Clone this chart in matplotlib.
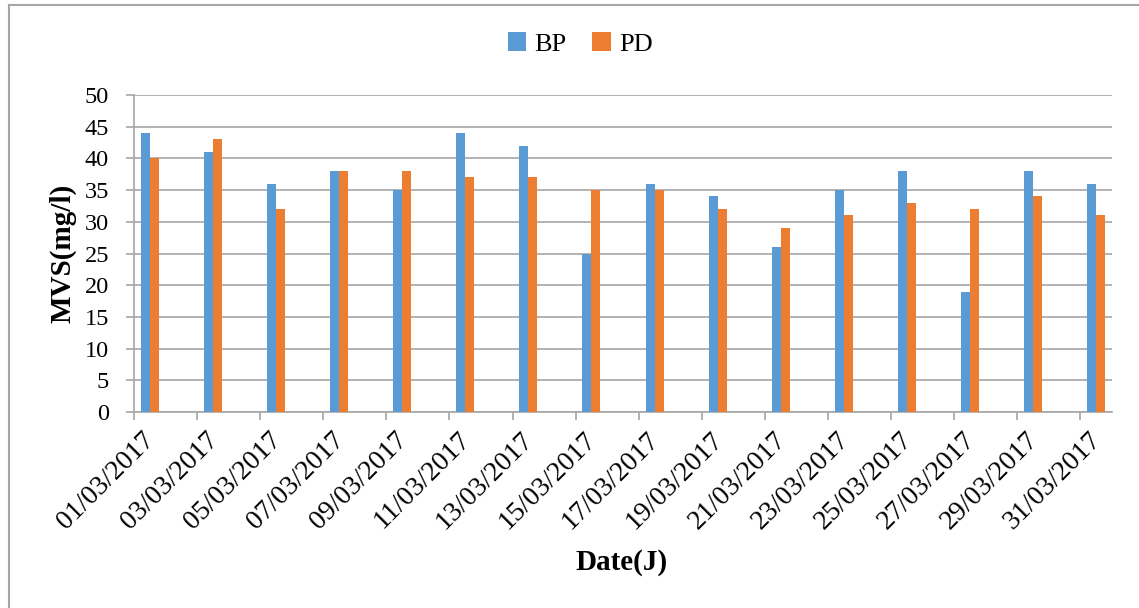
import matplotlib
matplotlib.use("Agg")
import matplotlib.pyplot as plt
import matplotlib.transforms as mtransforms
from matplotlib.lines import Line2D
import numpy as np

# Sampling days in March 2017 (every other day)
days = [1, 3, 5, 7, 9, 11, 13, 15, 17, 19, 21, 23, 25, 27, 29, 31]
tick_labels = [f"{d:02d}/03/2017" for d in days]
bp = [44, 41, 36, 38, 35, 44, 42, 25, 36, 34, 26, 35, 38, 19, 38, 36]
pd_ = [40, 43, 32, 38, 38, 37, 37, 35, 35, 32, 29, 31, 33, 32, 34, 31]

plt.rcParams['font.family'] = ['Liberation Serif', 'DejaVu Serif']

W, H = 1139, 608
fig = plt.figure(figsize=(W / 100, H / 100), dpi=100)
ax = fig.add_axes([134 / W, 1 - 412 / H, (1112 - 134) / W, (412 - 95) / H])

grid_c = '#A6A6A6'
blue = '#5B9BD5'
orange = '#ED7D31'

# Date axis: each day occupies one slot, bars centred in their day slot
x = np.array(days, dtype=float) - 0.5
bw = 0.285
ax.bar(x - bw / 2, bp, width=bw, color=blue, label='BP', zorder=3)
ax.bar(x + bw / 2, pd_, width=bw, color=orange, label='PD', zorder=3)

ax.set_xlim(0, 31)
ax.set_ylim(0, 50)
ax.set_yticks(range(0, 51, 5))
ax.yaxis.grid(True, color=grid_c, linewidth=1.2, zorder=0)
ax.set_axisbelow(True)

for s in ['top', 'right']:
    ax.spines[s].set_visible(False)
for s in ['left', 'bottom']:
    ax.spines[s].set_color(grid_c)
    ax.spines[s].set_linewidth(1.2)

ax.tick_params(axis='y', colors=grid_c, length=6, width=1.2, pad=12,
               labelsize=17.5, labelcolor='black')
ax.tick_params(axis='x', colors=grid_c, length=6, width=1.2, pad=2,
               labelsize=20, labelcolor='black')

ax.set_xticks(np.array(days, dtype=float) - 1)
ax.set_xticklabels(tick_labels, rotation=45, ha='right', va='center',
                   rotation_mode='anchor')
offset = mtransforms.ScaledTranslation(17 / 100, -13 / 100, fig.dpi_scale_trans)
for lab in ax.get_xticklabels():
    lab.set_transform(lab.get_transform() + offset)

fig.text(622 / W, 1 - 562 / H, 'Date(J)', ha='center', va='center',
         fontsize=21, fontweight='bold')
fig.text(63 / W, 1 - 253 / H, 'MVS(mg/l)', ha='center', va='center',
         rotation=90, fontsize=21, fontweight='bold')

fig.legend(loc='center', bbox_to_anchor=(580 / W, 1 - 44 / H), ncol=2,
           frameon=False, fontsize=19, handlelength=0.7, handleheight=0.7,
           handletextpad=0.3, columnspacing=1.0)

# Chart frame
fig.add_artist(Line2D([9 / W, 9 / W], [0, 1 - 5 / H], transform=fig.transFigure,
                      color=grid_c, linewidth=1.5))
fig.add_artist(Line2D([9 / W, 1], [1 - 5 / H, 1 - 5 / H], transform=fig.transFigure,
                      color=grid_c, linewidth=1.5))

fig.savefig('out.png', dpi=100, facecolor='white')
